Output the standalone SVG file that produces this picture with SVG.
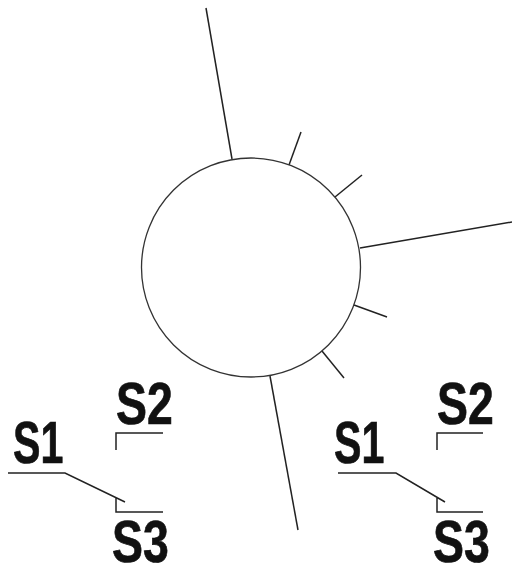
<svg xmlns="http://www.w3.org/2000/svg" width="512" height="567" viewBox="0 0 512 567">
<style>
.l{fill:none;stroke:#222;stroke-width:1.5;stroke-linecap:butt}
.c{fill:#fff;stroke:#333;stroke-width:1.3}
.t{font-family:"Liberation Sans",Arial,sans-serif;font-weight:bold;font-size:58px;fill:#111;stroke:#111;stroke-width:.7}
</style>
<rect width="512" height="567" fill="#fff"/>
<g id="connectors">
<path class="l" d="M206 8L232 159"/>
<path class="l" d="M289 165L301 132"/>
<path class="l" d="M335 197L362 175"/>
<path class="l" d="M360 248L512 222"/>
<path class="l" d="M354 305L387 317"/>
<path class="l" d="M322 351L344 378"/>
<path class="l" d="M270 376L298 530"/>
<path class="l" d="M8 473H65L125 502M116 497V512H163M116 450V433H163"/>
<path class="l" d="M338 473H396L445 502M437 497V512H483M437 450V433H483"/>
</g>
<g id="circle"><circle class="c" cx="251" cy="267.5" r="109.5"/></g>
<g id="label-left">
<text class="t" transform="translate(13 463) scale(.71 1.02)">S1</text>
<text class="t" transform="translate(116 424) scale(.8 1.02)">S2</text>
<text class="t" transform="translate(112 562) scale(.8 1.02)">S3</text>
</g>
<g id="label-right">
<text class="t" transform="translate(334 463) scale(.71 1.02)">S1</text>
<text class="t" transform="translate(437 424) scale(.8 1.02)">S2</text>
<text class="t" transform="translate(433 562) scale(.8 1.02)">S3</text>
</g>
</svg>
